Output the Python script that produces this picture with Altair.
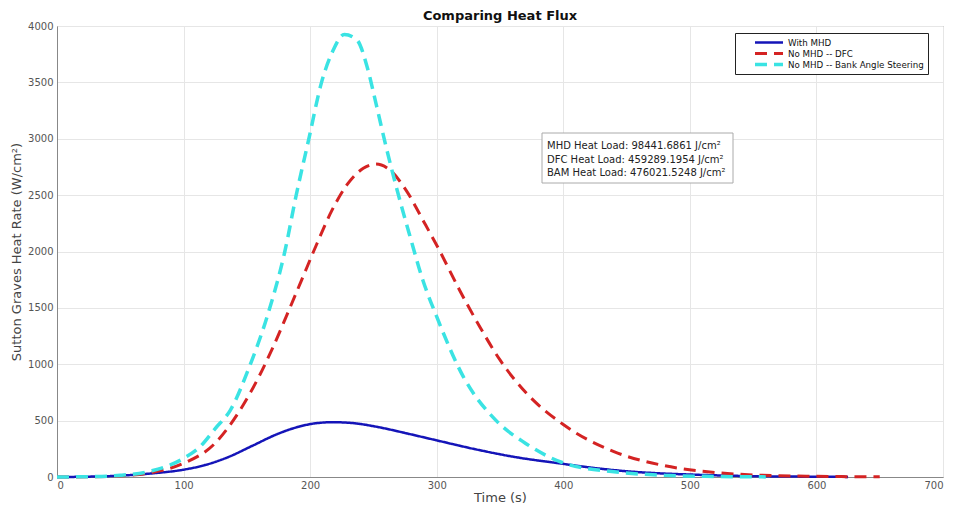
import altair as alt
import pandas as pd

# ---- data ----
mhd_t = [0, 25, 50, 75, 100, 117, 136, 154, 175, 191, 204, 218, 232, 255, 277, 300, 331, 363, 397, 423, 449, 475, 500, 530, 560, 590, 625]
mhd_v = [0, 3, 12, 32, 65, 106, 180, 275, 385, 446, 476, 486, 480, 440, 385, 325, 245, 175, 121, 82, 52, 33, 22, 12, 6, 3, 1]

dfc_t = [0, 25, 50, 75, 100, 124, 145, 160, 171, 181, 193, 205, 217, 229, 242, 252, 263, 276, 290, 302, 318, 334, 350, 371, 400, 440, 480, 520, 550, 600, 650]
dfc_v = [0, 2, 10, 40, 121, 290, 600, 900, 1160, 1420, 1740, 2060, 2360, 2590, 2738, 2776, 2723, 2540, 2260, 2013, 1659, 1333, 1038, 742, 465, 225, 100, 40, 18, 6, 2]

bam_t = [0, 25, 50, 75, 100, 113, 125, 137, 152, 166, 180, 189, 199, 209, 218, 227, 237, 245, 252, 260, 268, 279, 289, 300, 321, 347, 370, 400, 440, 480, 520, 560]
bam_v = [0, 3, 15, 55, 165, 269, 430, 594, 978, 1422, 2000, 2500, 3000, 3500, 3780, 3925, 3876, 3639, 3314, 2929, 2575, 2131, 1747, 1422, 890, 500, 300, 125, 47, 15, 5, 1]

series_names = ["With MHD", "No MHD -- DFC", "No MHD -- Bank Angle Steering"]
series_colors = ["#1414b8", "#d42323", "#3ae3e3"]

annotation_lines = [
    "MHD Heat Load: 98441.6861 J/cm²",
    "DFC Heat Load: 459289.1954 J/cm²",
    "BAM Heat Load: 476021.5248 J/cm²",
]

x_ticks = [0, 100, 200, 300, 400, 500, 600, 700]
y_ticks = [0, 500, 1000, 1500, 2000, 2500, 3000, 3500, 4000]

rows = []
for name, ts, vs in zip(series_names, [mhd_t, dfc_t, bam_t], [mhd_v, dfc_v, bam_v]):
    for i, (t, v) in enumerate(zip(ts, vs)):
        rows.append({"series": name, "t": t, "v": v, "order": i})
df = pd.DataFrame(rows)

FONT = "DejaVu Sans"

legend = alt.Legend(title=None, orient="none", legendX=678, legendY=7,
                    symbolType="stroke", symbolSize=784, symbolStrokeWidth=3,
                    symbolOffset=14, labelOffset=3, clipHeight=11, rowPadding=0,
                    labelFontSize=8.7, labelFont=FONT, labelColor="#111",
                    fillColor="white", strokeColor="#222", padding=4,
                    labelLimit=300)

lines = alt.Chart(df).mark_line(interpolate="monotone").encode(
    x=alt.X("t:Q", scale=alt.Scale(domain=[0, 700], nice=False),
            axis=alt.Axis(values=x_ticks, title="Time (s)", format="d",
                          labelPadding=3, titlePadding=1)),
    y=alt.Y("v:Q", scale=alt.Scale(domain=[0, 4000], nice=False),
            axis=alt.Axis(values=y_ticks, title="Sutton Graves Heat Rate (W/cm²)", format="d",
                          labelPadding=4, titlePadding=4, titleFontSize=13)),
    order="order:Q",
    color=alt.Color("series:N", scale=alt.Scale(domain=series_names, range=series_colors),
                    legend=legend),
    strokeDash=alt.StrokeDash("series:N",
                              scale=alt.Scale(domain=series_names, range=[[1, 0], [12, 7], [12, 7]]),
                              legend=legend),
    strokeWidth=alt.StrokeWidth("series:N",
                                scale=alt.Scale(domain=series_names, range=[2.5, 3.5, 3.5]),
                                legend=None),
)

box = alt.Chart(alt.Data(values=[{}])).mark_rect(
    fill="white", stroke="#aaa", strokeWidth=1
).encode(x=alt.value(485), x2=alt.value(676), y=alt.value(107), y2=alt.value(157))

note = alt.Chart(alt.Data(values=[{}])).mark_text(
    text=annotation_lines, align="left", baseline="alphabetic", font=FONT,
    fontSize=10, color="#222", lineHeight=13.5
).encode(x=alt.value(490), y=alt.value(123))

chart = alt.layer(lines, box, note).properties(
    width=886, height=451,
    title=alt.TitleParams("Comparing Heat Flux", font=FONT, fontSize=13, fontWeight="bold",
                          color="#111", offset=-2, frame="group"),
    autosize=alt.AutoSizeParams(type="none"),
    padding={"left": 49, "top": 18, "right": 6, "bottom": 29},
).configure_view(
    stroke="#888", strokeWidth=1
).configure_axis(
    labelFont=FONT, labelFontSize=10, labelColor="#555",
    titleFont=FONT, titleFontSize=13, titleColor="#444", titleFontWeight="normal",
    gridColor="#e6e6e6", domainColor="#888", tickSize=0,
)

chart.save("out.html", embed_options={"renderer": "svg", "actions": False})
